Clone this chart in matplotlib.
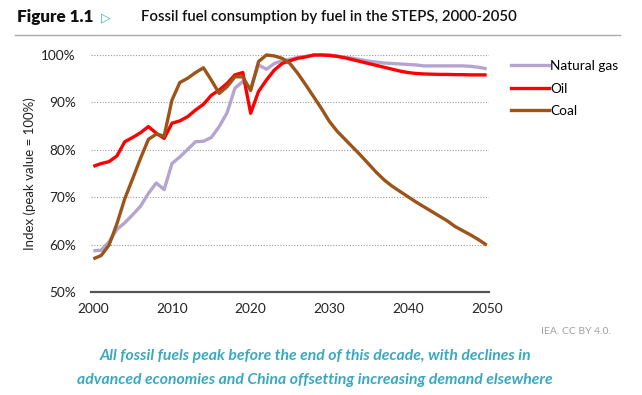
import matplotlib
matplotlib.use("Agg")
import matplotlib.pyplot as plt
from matplotlib.lines import Line2D

plt.rcParams['font.family'] = ['Lato', 'DejaVu Sans']

years = list(range(2000, 2051))

natural_gas = [58.7, 58.8, 60.6, 63.2, 64.6, 66.3, 68.1, 70.8, 73.0, 71.6,
               77.1, 78.5, 80.1, 81.7, 81.8, 82.6, 84.9, 87.8, 93.0, 94.4,
               93.0, 97.9, 97.0, 98.2, 98.8, 99.1, 99.5, 99.7, 99.9, 100.0,
               100.0, 99.8, 99.5, 99.3, 99.0, 98.7, 98.5, 98.3, 98.2, 98.1,
               98.0, 97.9, 97.7, 97.7, 97.7, 97.7, 97.7, 97.7, 97.6, 97.4,
               97.1]

oil = [76.5, 77.1, 77.5, 78.7, 81.7, 82.6, 83.6, 84.9, 83.5, 82.4,
       85.6, 86.1, 87.0, 88.4, 89.6, 91.5, 92.6, 94.0, 95.8, 96.3,
       87.7, 92.3, 94.7, 96.8, 98.2, 98.8, 99.3, 99.6, 100.0, 100.0,
       99.9, 99.7, 99.4, 99.0, 98.6, 98.2, 97.8, 97.4, 97.0, 96.6,
       96.3, 96.1, 96.0, 95.95, 95.9, 95.9, 95.85, 95.85, 95.8, 95.8,
       95.8]

coal = [57.0, 57.7, 59.9, 64.4, 69.7, 73.9, 78.2, 82.2, 83.3, 82.9,
        90.5, 94.2, 95.1, 96.3, 97.3, 94.7, 91.9, 93.3, 95.4, 95.4,
        92.5, 98.6, 100.0, 99.8, 99.3, 98.2, 96.1, 93.7, 91.2, 88.7,
        86.0, 83.9, 82.2, 80.5, 78.8, 77.0, 75.2, 73.6, 72.3, 71.2,
        70.1, 69.0, 68.0, 67.0, 66.0, 65.0, 63.8, 62.9, 62.0, 61.0,
        59.9]

series_names = ["Natural gas", "Oil", "Coal"]
colors = ["#b4a5d0", "#ff0000", "#9c5418"]
y_ticks = [50, 60, 70, 80, 90, 100]
x_ticks = [2000, 2010, 2020, 2030, 2040, 2050]

fig = plt.figure(figsize=(6.42, 3.95), dpi=100)
ax = fig.add_axes([0.1417, 0.2608, 0.62, 0.60])

for name, vals, c in zip(series_names, [natural_gas, oil, coal], colors):
    ax.plot(years, vals, color=c, lw=2.4, label=name, clip_on=False,
            solid_capstyle='butt', solid_joinstyle='round')

ax.set_xlim(1999.7, 2050.3)
ax.set_ylim(50, 100)
ax.set_yticks(y_ticks)
ax.set_yticklabels([f"{v}%" for v in y_ticks])
ax.set_xticks(x_ticks)
for v in y_ticks[1:]:
    ax.axhline(v, color='#9a9a9a', lw=0.8, ls=(0, (1, 1.5)), zorder=0)
for s in ['top', 'right', 'left']:
    ax.spines[s].set_visible(False)
ax.spines['bottom'].set_color('#555555')
ax.spines['bottom'].set_linewidth(1.6)
ax.tick_params(axis='both', length=0, labelsize=9.8, colors='#222222')
ax.tick_params(axis='y', pad=11)
ax.tick_params(axis='x', pad=8)
ax.set_ylabel("Index (peak value = 100%)", fontsize=9.5, color='#222222', labelpad=4)

handles = [Line2D([0], [0], color=c, lw=2.4) for c in colors]
leg = fig.legend(handles, series_names, loc='upper left',
                 bbox_to_anchor=(0.788, 0.862), frameon=False, fontsize=9.8,
                 handlelength=2.8, handletextpad=0.05, labelspacing=0.78,
                 borderaxespad=0)

# title
fig.text(0.026, 0.957, "Figure 1.1", fontsize=12.3, fontweight='heavy',
         color='#111111', va='center')
fig.text(0.158, 0.955, "\u25B7", fontsize=9, color='#3aa8c1', va='center',
         family=['DejaVu Sans'], fontweight='bold')
fig.text(0.219, 0.957, "Fossil fuel consumption by fuel in the STEPS, 2000-2050",
         fontsize=10.8, fontweight='semibold', color='#111111', va='center')
fig.add_artist(Line2D([0.023, 0.966], [0.912, 0.912], color='#aaaaaa', lw=1.0,
                      transform=fig.transFigure))

fig.text(0.951, 0.16, "IEA. CC BY 4.0.", fontsize=7.5, color='#a0a0a0',
         ha='right', va='center')
fig.text(0.491, 0.098, "All fossil fuels peak before the end of this decade, with declines in",
         fontsize=11.3, style='italic', fontweight='bold', color='#3aa8c1',
         ha='center', va='center')
fig.text(0.491, 0.037, "advanced economies and China offsetting increasing demand elsewhere",
         fontsize=11.3, style='italic', fontweight='bold', color='#3aa8c1',
         ha='center', va='center')

fig.savefig("out.png", dpi=100)
